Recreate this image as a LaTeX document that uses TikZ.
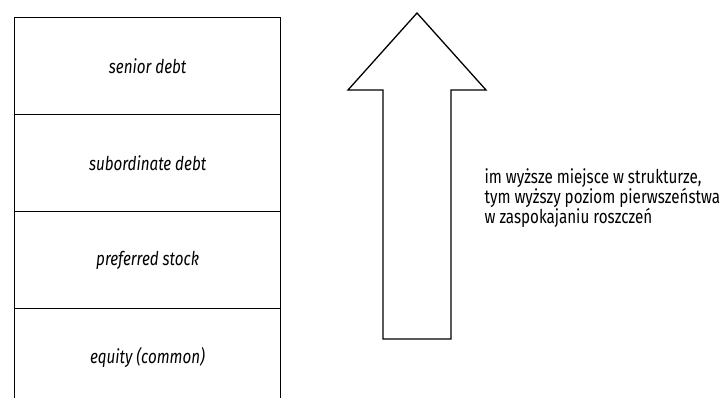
\documentclass[tikz,border=0pt]{standalone}
\usepackage{fontspec}
\setmainfont{Fira Sans}[FakeStretch=0.8]
\usetikzlibrary{positioning,matrix}

\begin{document}
\begin{tikzpicture}[x=1pt, y=1pt, line width=1.3pt,
        stack/.style={matrix of nodes, row sep=-\pgflinewidth,
          nodes={draw, minimum width=266pt, minimum height=97pt,
            font=\fontsize{19}{21}\selectfont\itshape, inner sep=0pt}},
        note/.style={align=left, inner sep=0pt,
          font=\fontsize{19}{17.5}\selectfont}
        ]
        \clip (0,0) rectangle (721,397);
        \fill[white] (0,0) rectangle (721,397);
        % layers of the structure
        \matrix[stack, anchor=north west] (S) at (10,384) {
          senior debt \\
          subordinate debt \\
          preferred stock \\
          equity (common) \\
        };
        % arrow pointing up
        \coordinate (tip) at (417,384);
        \draw[line join=miter] (tip) -- (486,307) -- (451,307) -- (451,58)
          -- (383,58) -- (383,307) -- (348,307) -- cycle;
        \node[note, anchor=west] (N) at (484,199) {im wyższe miejsce w strukturze,\\
          tym wyższy poziom pierwszeństwa\\
          w zaspokajaniu roszczeń};
\end{tikzpicture}
\end{document}
